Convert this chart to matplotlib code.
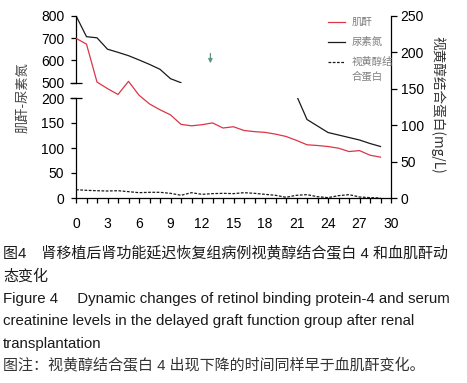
import numpy as np
import matplotlib
matplotlib.use("Agg")
import matplotlib.pyplot as plt
from matplotlib.lines import Line2D

plt.rcParams['font.family'] = ['Liberation Sans', 'Noto Sans CJK SC', 'DejaVu Sans']
CJK = ['Noto Sans CJK SC', 'DejaVu Sans']

# --- DATA (days after transplantation) ---
days = np.arange(0, 30)
# creatinine, drawn against the right-hand scale
creatinine = [219, 211, 159, 150, 142, 160, 141, 129, 121, 114,
              101, 99, 100.5, 103, 96, 97.7, 92.6, 91, 90, 87.6,
              84.4, 79, 73, 72, 70.6, 68.3, 63.7, 65, 58.7, 56]
# urea nitrogen, broken left scale (days 11-20 fall in the axis gap)
urea = [800, 706, 701, 650, 636, 621, 602, 582, 560, 518,
        500, np.nan, np.nan, np.nan, np.nan, np.nan, np.nan, np.nan, np.nan, np.nan,
        np.nan, 205, 157, 144, 131, 126, 121, 116, 109, 103]
# retinol binding protein
rbp = [11.4, 10.5, 10, 9.6, 10, 8.7, 7.3, 7.8, 7.8, 6.4,
       3.7, 7.3, 5, 6, 6.4, 6, 7.3, 6.4, 5, 3.7,
       1, 3.7, 4.6, 1.8, 0.5, 3.2, 4.6, 1.4, 0.5, 0]

W, H = 467, 383
fig = plt.figure(figsize=(W / 100, H / 100), dpi=100)

def fx(px):
    return px / W

def fy(py):
    return 1 - py / H

x0, x1 = 76, 391
TS = 10
# lower / upper parts of the broken left axis
axl = fig.add_axes([fx(x0), fy(198), fx(x1 - x0), (198 - 98) / H])
axu = fig.add_axes([fx(x0), fy(82.7), fx(x1 - x0), (82.7 - 15.7) / H])
# main axes: x axis + right scale
ax = fig.add_axes([fx(x0), fy(198), fx(x1 - x0), (198 - 15.7) / H])
ax.patch.set_alpha(0)

for a in (axl, axu):
    a.set_xlim(0, 30)
    a.patch.set_alpha(0)
    for s in ('top', 'right', 'bottom'):
        a.spines[s].set_visible(False)
    a.set_xticks([])
    a.tick_params(axis='y', direction='out', length=3.5, width=0.9, pad=5, labelsize=TS)
    a.spines['left'].set_linewidth(0.9)
    a.plot(days, urea, color='#1a1a1a', lw=0.9)

axl.set_ylim(0, 200)
axl.set_yticks([0, 50, 100, 150, 200])
axu.set_ylim(500, 800)
axu.set_yticks([500, 600, 700, 800])

# break marks (crossing ticks at 500 and 200)
axu.plot([0], [0], marker='_', ms=8, mew=0.9, color='k', transform=axu.transAxes, clip_on=False)
axl.plot([0], [1], marker='_', ms=8, mew=0.9, color='k', transform=axl.transAxes, clip_on=False)

ax.set_xlim(0, 30)
ax.set_ylim(0, 250)
ax.plot(days, creatinine, color='#dc3545', lw=0.9)
ax.plot(days, rbp, color='#1a1a1a', lw=0.9, ls=(0, (2.2, 1.2)))
for s in ('top', 'left'):
    ax.spines[s].set_visible(False)
ax.spines['right'].set_linewidth(0.9)
ax.spines['bottom'].set_linewidth(0.9)
ax.yaxis.tick_right()
ax.set_yticks([0, 50, 100, 150, 200, 250])
ax.set_xticks(np.arange(0, 31, 3))
ax.set_xticks(np.arange(0, 31, 1), minor=True)
ax.tick_params(axis='y', direction='out', length=4, width=0.9, pad=3, labelsize=TS)
ax.tick_params(axis='x', which='both', direction='out', length=3.5, width=0.9, pad=10, labelsize=TS)

# arrow marking the RBP drop
ax.annotate('', xy=(12.8, 181), xytext=(12.8, 202),
            arrowprops=dict(arrowstyle='-|>', color='#5f9488', lw=0.9, mutation_scale=6))

# axis titles
fig.text(fx(23), fy(98), '肌酐-尿素氮', rotation=90, ha='center', va='center',
         fontsize=9.5, color='#444444', family=CJK)
fig.text(fx(438), fy(105), '视黄醇结合蛋白(mg/L)', rotation=270, ha='center', va='center',
         fontsize=9.8, color='#333333', family=CJK)

# legend drawn by hand
leg = [('#dc3545', '-', 21.7, '肌酐'),
       ('#1a1a1a', '-', 42.3, '尿素氮'),
       ('#1a1a1a', (0, (2.2, 1.2)), 61.7, '视黄醇结')]
for c, ls, yy, lab in leg:
    fig.add_artist(Line2D([fx(328), fx(345)], [fy(yy), fy(yy)], color=c, ls=ls, lw=0.9))
    fig.text(fx(352), fy(yy), lab, ha='left', va='center', fontsize=7.5, color='#808080', family=CJK)
fig.text(fx(352), fy(76), '合蛋白', ha='left', va='center', fontsize=7.5, color='#808080', family=CJK)

# caption
cap = [(253, '图4\u3000肾移植后肾功能延迟恢复组病例视黄醇结合蛋白 4 和血肌酐动', '#1a1a1a', 'medium'),
       (276, '态变化', '#1a1a1a', 'medium'),
       (299, 'Figure 4\u2003 Dynamic changes of retinol binding protein-4 and serum', '#1a1a1a', 'normal'),
       (321, 'creatinine levels in the delayed graft function group after renal', '#1a1a1a', 'normal'),
       (344, 'transplantation', '#1a1a1a', 'normal'),
       (366, '图注：视黄醇结合蛋白 4 出现下降的时间同样早于血肌酐变化。', '#333333', 'normal')]
fam = ['Liberation Sans', 'Noto Sans CJK SC', 'DejaVu Sans']
for yy, t, c, w in cap:
    fig.text(fx(3), fy(yy), t, ha='left', va='center', fontsize=10.8, color=c,
             family=fam, weight=w)

fig.savefig('out.png', dpi=100)
